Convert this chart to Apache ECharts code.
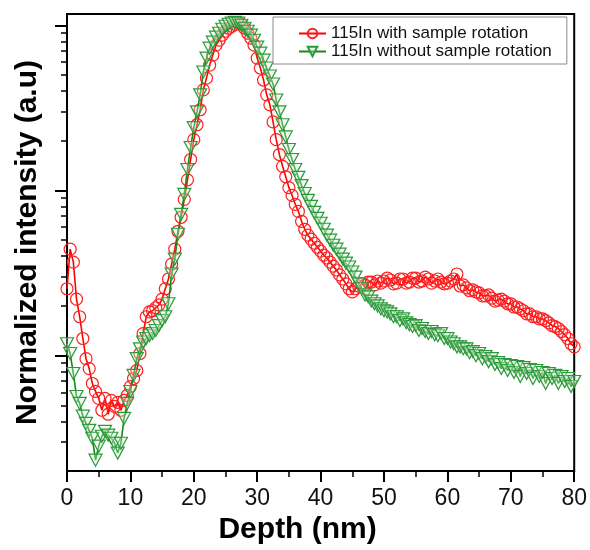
<!DOCTYPE html>
<html><head><meta charset="utf-8">
<script src="https://cdn.jsdelivr.net/npm/echarts@6/dist/echarts.min.js"></script>
<style>html,body{margin:0;padding:0;background:#fff}#c{width:590px;height:550px}</style>
</head><body><div id="c"></div>
<script>
const depth = [
  0,0.5,1,1.5,2,2.5,3,3.5,4,4.5,
  5,5.5,6,6.5,7,7.5,8,8.5,9,9.5,
  10,10.5,11,11.5,12,12.5,13,13.5,14,14.5,
  15,15.5,16,16.5,17,17.5,18,18.5,19,19.5,
  20,20.5,21,21.5,22,22.5,23,23.5,24,24.5,
  25,25.5,26,26.5,27,27.5,28,28.5,29,29.5,
  30,30.5,31,31.5,32,32.5,33,33.5,34,34.5,
  35,35.5,36,36.5,37,37.5,38,38.5,39,39.5,
  40,40.5,41,41.5,42,42.5,43,43.5,44,44.5,
  45,45.5,46,46.5,47,47.5,48,48.5,49,49.5,
  50,50.5,51,51.5,52,52.5,53,53.5,54,54.5,
  55,55.5,56,56.5,57,57.5,58,58.5,59,59.5,
  60,60.5,61,61.5,62,62.5,63,63.5,64,64.5,
  65,65.5,66,66.5,67,67.5,68,68.5,69,69.5,
  70,70.5,71,71.5,72,72.5,73,73.5,74,74.5,
  75,75.5,76,76.5,77,77.5,78,78.5,79,79.5,
  80
];
const withRotation = [
  0.0254,0.0441,0.0368,0.0220,0.0172,0.0127,0.00959,0.00835,0.00678,0.00607,
  0.00551,0.00467,0.00551,0.00442,0.00536,0.00493,0.00521,0.00467,0.00536,0.00574,
  0.00650,0.00727,0.00813,0.0103,0.0136,0.0172,0.0184,0.0187,0.0195,0.0203,
  0.0220,0.0254,0.0291,0.0358,0.0441,0.0566,0.0688,0.0883,0.116,0.154,
  0.203,0.250,0.308,0.406,0.479,0.574,0.660,0.758,0.812,0.871,
  0.920,0.959,0.986,1.014,1.03,1.014,0.959,0.895,0.835,0.758,
  0.633,0.551,0.466,0.379,0.330,0.260,0.203,0.165,0.140,0.121,
  0.104,0.0933,0.0824,0.0747,0.0650,0.0582,0.0536,0.0507,0.0479,0.0453,
  0.0429,0.0406,0.0390,0.0368,0.0348,0.0330,0.0308,0.0291,0.0272,0.0254,
  0.0243,0.0254,0.0264,0.0272,0.0268,0.0279,0.0279,0.0268,0.0283,0.0275,
  0.0283,0.0295,0.0287,0.0272,0.0275,0.0291,0.0291,0.0275,0.0279,0.0295,
  0.0295,0.0279,0.0283,0.0299,0.0291,0.0275,0.0283,0.0291,0.0279,0.0272,
  0.0275,0.0283,0.0291,0.0312,0.0264,0.0268,0.0257,0.0247,0.0250,0.0243,
  0.0240,0.0230,0.0230,0.0233,0.0223,0.0214,0.0217,0.0220,0.0214,0.0206,
  0.0206,0.0197,0.0197,0.0192,0.0187,0.0179,0.0179,0.0172,0.0172,0.0167,
  0.0167,0.0163,0.0158,0.0152,0.0150,0.0146,0.0140,0.0134,0.0127,0.0118,
  0.0113
];
const withoutRotation = [
  0.0118,0.0103,0.00780,0.00566,0.00514,0.00430,0.00389,0.00353,0.00316,0.00233,
  0.00283,0.00325,0.00348,0.00330,0.00316,0.00295,0.00257,0.00295,0.00417,0.00514,
  0.00607,0.00759,0.00959,0.0110,0.0121,0.0127,0.0132,0.0136,0.0142,0.0152,
  0.0163,0.0172,0.0206,0.0312,0.0384,0.0543,0.0717,0.0946,0.134,0.182,
  0.240,0.299,0.379,0.521,0.633,0.727,0.790,0.847,0.895,0.946,
  0.986,1.014,1.03,1.04,1.03,1.0,0.959,0.920,0.871,0.812,
  0.737,0.678,0.615,0.551,0.493,0.441,0.353,0.299,0.250,0.211,
  0.177,0.154,0.134,0.120,0.107,0.0959,0.0871,0.0801,0.0737,0.0678,
  0.0633,0.0582,0.0536,0.0500,0.0466,0.0441,0.0412,0.0384,0.0363,0.0344,
  0.0321,0.0299,0.0272,0.0254,0.0233,0.0227,0.0214,0.0206,0.0200,0.0192,
  0.0187,0.0184,0.0179,0.0172,0.0172,0.0163,0.0167,0.0158,0.0154,0.0150,
  0.0152,0.0142,0.0146,0.0140,0.0136,0.0140,0.0134,0.0132,0.0136,0.0127,
  0.0127,0.0121,0.0118,0.0113,0.0113,0.0110,0.0110,0.0104,0.0106,0.0100,
  0.0103,0.00959,0.00986,0.00920,0.00959,0.00883,0.00907,0.00835,0.00883,0.00813,
  0.00871,0.00791,0.00859,0.00747,0.00847,0.00780,0.00824,0.00727,0.00813,0.00747,
  0.00791,0.00678,0.00780,0.00727,0.00759,0.00678,0.00747,0.00697,0.00727,0.00650,
  0.00697
];
const seriesNames = ['115In with sample rotation', '115In without sample rotation'];
const xTickLabels = [0, 10, 20, 30, 40, 50, 60, 70, 80];
const yMajorTicks = [0.01, 0.1, 1];
const yMinorTicks = [0.003,0.004,0.005,0.006,0.007,0.008,0.009,
  0.02,0.03,0.04,0.05,0.06,0.07,0.08,0.09,
  0.2,0.3,0.4,0.5,0.6,0.7,0.8,0.9];

const FONT = 'Arial, "Liberation Sans", sans-serif';
const chart = echarts.init(document.getElementById('c'), null, {renderer: 'canvas'});
const yRange = {min: 0.002, max: 1.17};

chart.setOption({
  animation: false,
  backgroundColor: '#fff',
  grid: {left: 67, right: 15, top: 14, bottom: 76, show: true, borderColor: '#000', borderWidth: 2, backgroundColor: 'transparent'},
  legend: {
    left: 273, top: 17, orient: 'vertical', itemGap: 1, itemWidth: 27, itemHeight: 12,
    padding: [8, 15, 4, 25], borderColor: '#888', borderWidth: 1, backgroundColor: '#fff',
    textStyle: {fontSize: 17, fontFamily: FONT, color: '#111'},
    data: seriesNames
  },
  xAxis: {
    type: 'value', min: xTickLabels[0], max: xTickLabels[xTickLabels.length - 1], interval: 10,
    name: 'Depth (nm)', nameLocation: 'middle', nameGap: 43,
    nameTextStyle: {fontSize: 30, fontWeight: 'bold', fontFamily: FONT, color: '#000', padding: [0, 46, 0, 0]},
    axisLine: {lineStyle: {color: '#000', width: 2}},
    axisTick: {length: 11, lineStyle: {color: '#000', width: 2}},
    minorTick: {show: true, splitNumber: 2, length: 6, lineStyle: {color: '#000', width: 1.5}},
    splitLine: {show: false},
    axisLabel: {fontSize: 23, fontFamily: FONT, color: '#111', margin: 16}
  },
  yAxis: [{
    type: 'log', logBase: 10, min: yRange.min, max: yRange.max,
    name: 'Normalized intensity (a.u)', nameLocation: 'middle', nameGap: 24,
    nameTextStyle: {fontSize: 30, fontWeight: 'bold', fontFamily: FONT, color: '#000'},
    axisLine: {show: true, lineStyle: {color: '#000', width: 2}},
    axisTick: {show: true, customValues: yMajorTicks, length: 12, lineStyle: {color: '#000', width: 2}},
    axisLabel: {show: false},
    splitLine: {show: false}
  }, {
    type: 'log', logBase: 10, min: yRange.min, max: yRange.max, position: 'left',
    axisLine: {show: false},
    axisTick: {show: true, customValues: yMinorTicks, length: 6, lineStyle: {color: '#000', width: 1.5}},
    axisLabel: {show: false},
    splitLine: {show: false}
  }],
  series: [{
    name: seriesNames[0], type: 'line', yAxisIndex: 0,
    data: depth.map((d, i) => [d, withRotation[i]]),
    symbol: 'circle', symbolSize: 12,
    itemStyle: {color: 'rgba(255,255,255,0)', borderColor: '#ff1f1f', borderWidth: 1.2},
    lineStyle: {color: '#ff0000', width: 1.6},
    z: 2
  }, {
    name: seriesNames[1], type: 'line', yAxisIndex: 0,
    data: depth.map((d, i) => [d, withoutRotation[i]]),
    symbol: 'triangle', symbolRotate: 180, symbolSize: [13, 12],
    itemStyle: {color: 'rgba(215,242,215,0.35)', borderColor: '#2a9a3a', borderWidth: 1.2},
    lineStyle: {color: '#138a13', width: 1.6},
    z: 3
  }]
});
</script>
</body></html>
